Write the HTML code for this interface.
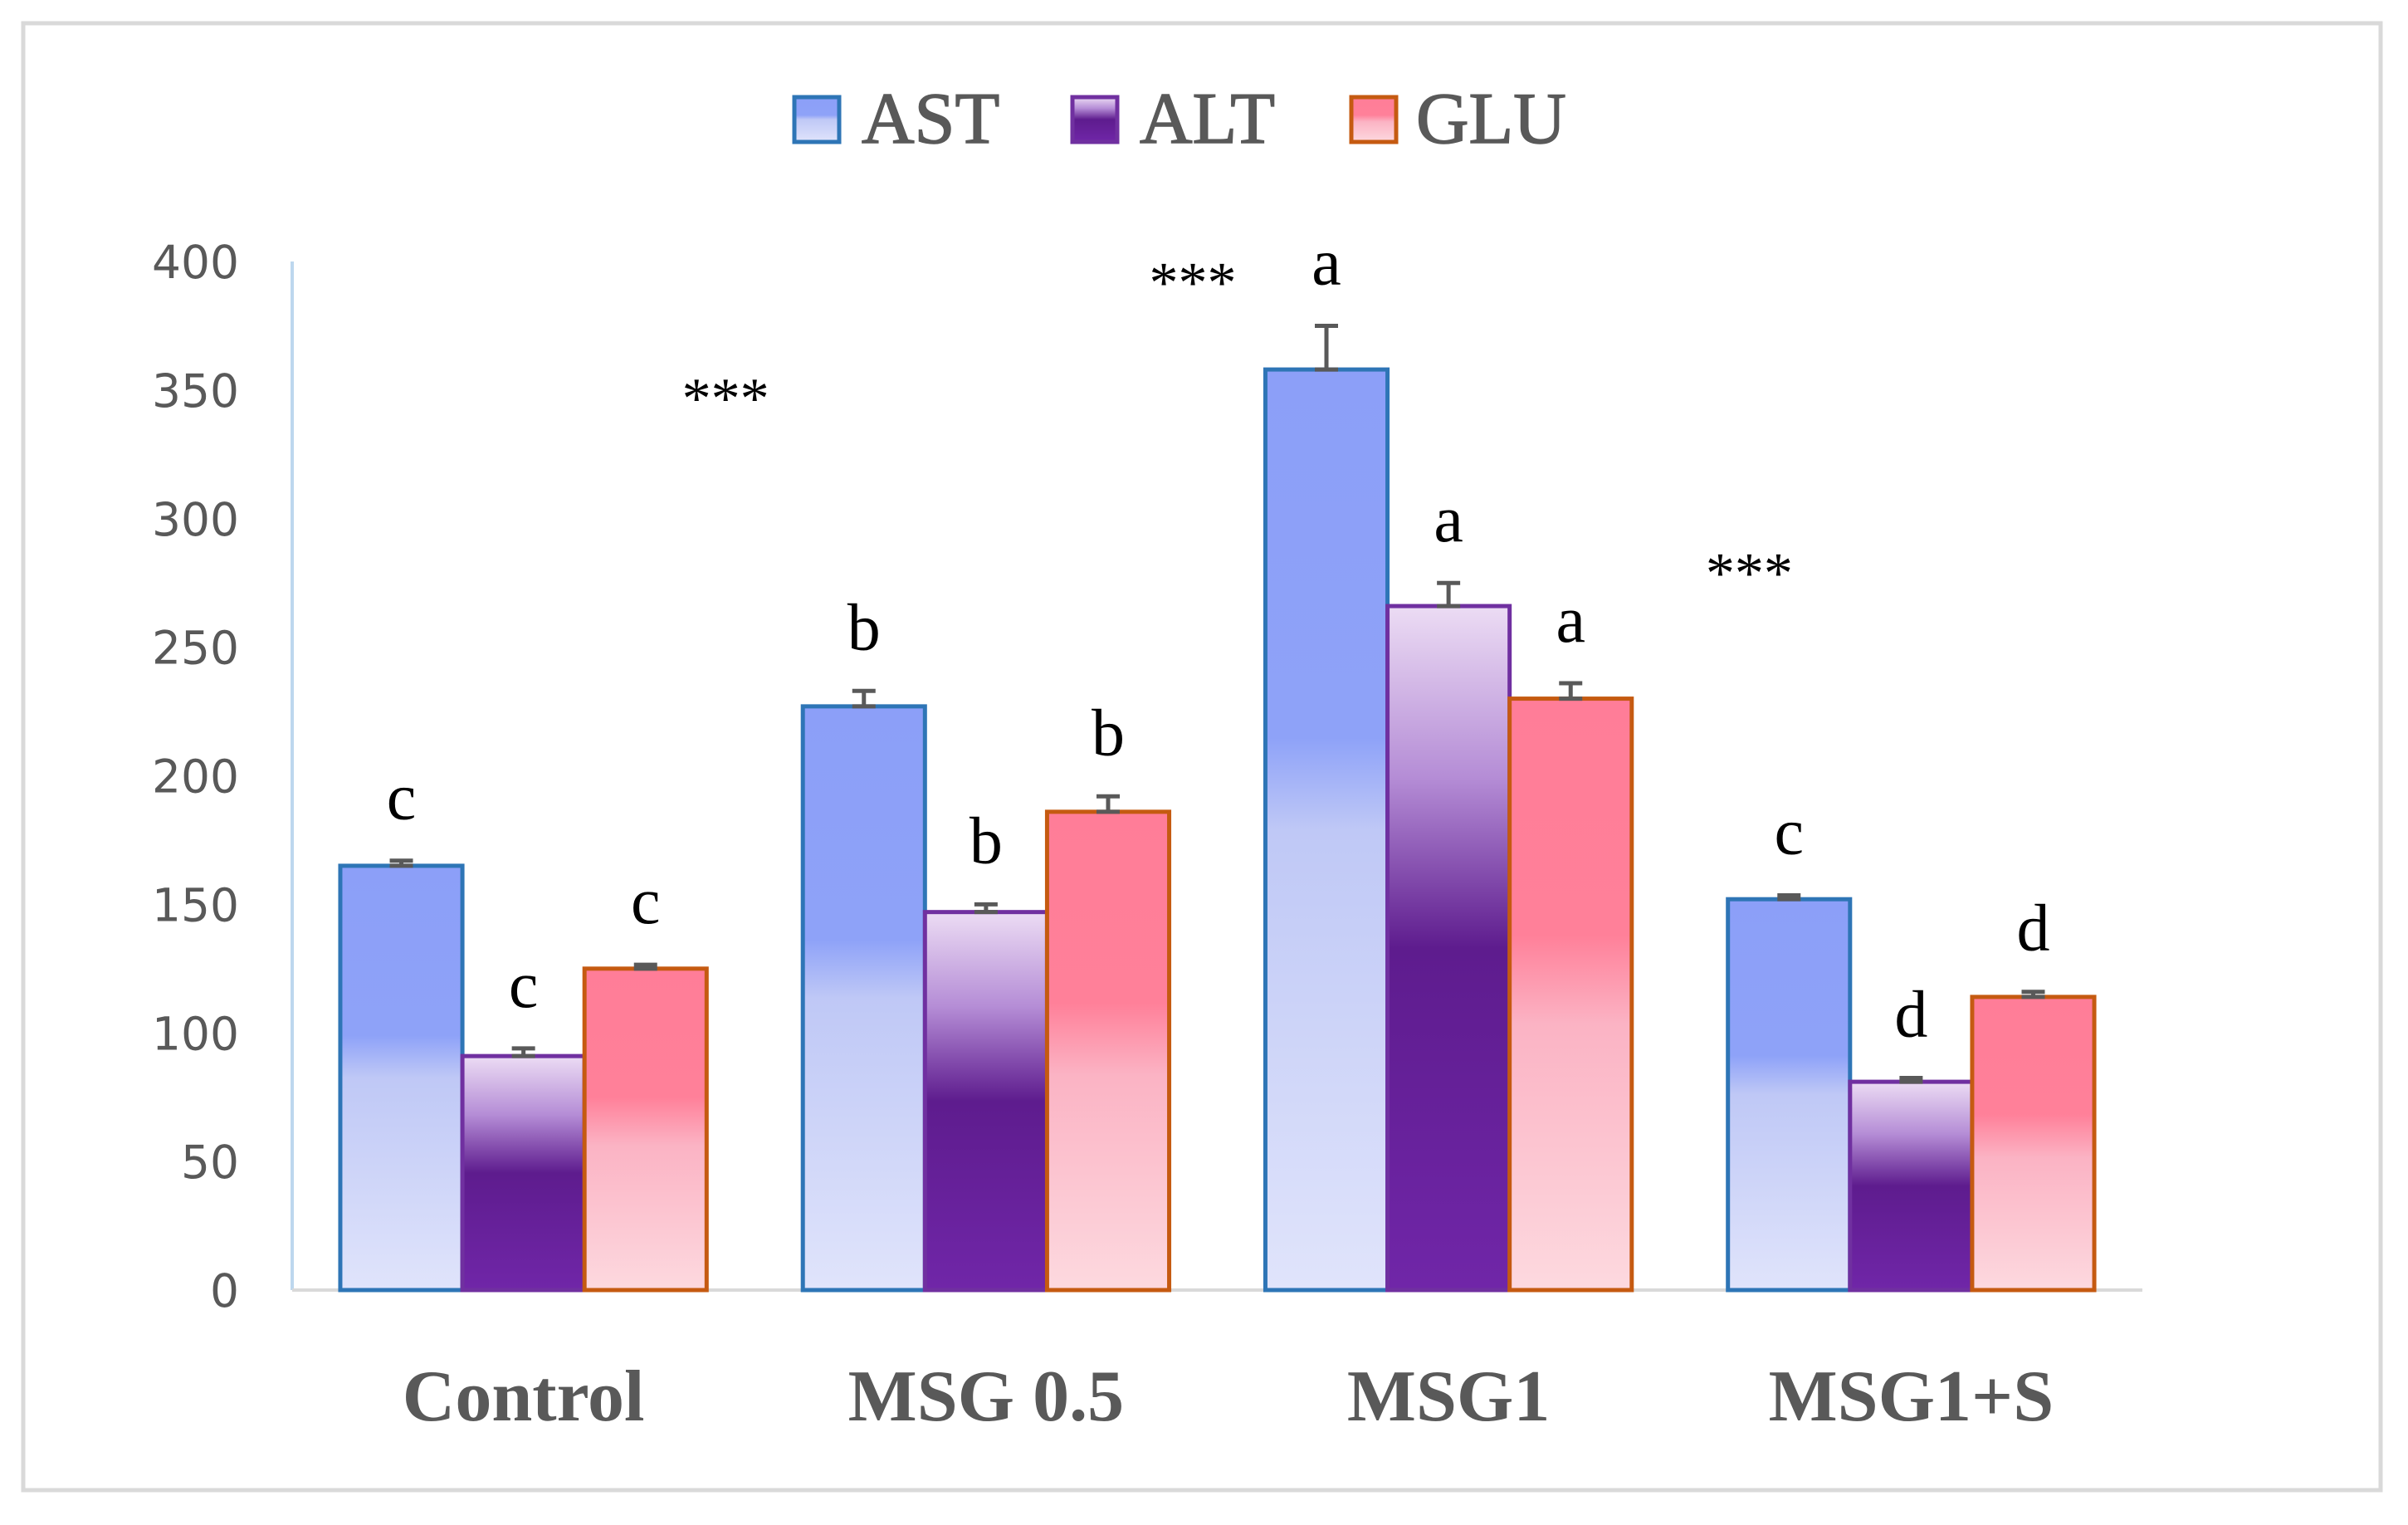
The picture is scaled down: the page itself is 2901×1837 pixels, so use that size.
<!DOCTYPE html>
<html><head><meta charset="utf-8">
<style>
html,body{margin:0;padding:0;background:#fff;}
svg{display:block;}
</style></head>
<body>
<svg id="chart" width="2901" height="1837" viewBox="0 0 2901 1837" xmlns="http://www.w3.org/2000/svg">
<defs>
<linearGradient id="gAST" x1="0" y1="0" x2="0" y2="1">
<stop offset="0" stop-color="#8c9ff8"/><stop offset="0.4" stop-color="#8ea2f8"/><stop offset="0.5" stop-color="#bfc8f6"/><stop offset="1" stop-color="#e0e4fb"/>
</linearGradient>
<linearGradient id="gALT" x1="0" y1="0" x2="0" y2="1">
<stop offset="0" stop-color="#ecdcf4"/><stop offset="0.25" stop-color="#b58dd6"/><stop offset="0.5" stop-color="#5e1c8e"/><stop offset="1" stop-color="#7026a8"/>
</linearGradient>
<linearGradient id="gGLU" x1="0" y1="0" x2="0" y2="1">
<stop offset="0" stop-color="#ff7d98"/><stop offset="0.4" stop-color="#ff8099"/><stop offset="0.55" stop-color="#fbb3c4"/><stop offset="1" stop-color="#fdd9df"/>
</linearGradient>
</defs>
<rect x="28" y="28" width="2840" height="1767" fill="#fff" stroke="#d9d9d9" stroke-width="5"/>
<g id="legend"></g>
<g id="axes"></g>
<g id="bars"></g>
</svg>
<script>
const categories = ["Control", "MSG 0.5", "MSG1", "MSG1+S"];
const seriesNames = ["AST", "ALT", "GLU"];
const astValues = [165, 227, 358, 152];
const altValues = [91, 147, 266, 81];
const gluValues = [125, 186, 230, 114];
const astErrors = [2, 6, 17, 1.5];
const altErrors = [3, 3, 9, 1.5];
const gluErrors = [1.5, 6, 6, 2];
const astLetters = ["c", "b", "a", "c"];
const altLetters = ["c", "b", "a", "d"];
const gluLetters = ["c", "b", "a", "d"];
const yTicks = [0, 50, 100, 150, 200, 250, 300, 350, 400];
const starValues = [349, 394, 281];
const starCategoryPos = [0.937, 1.947, 3.15];

const NS = "http://www.w3.org/2000/svg";
const X0 = 352, X1 = 2581, Y0 = 1554, Y400 = 315;
const yScale = v => Y0 - (v / 400) * (Y0 - Y400);
const catW = (X1 - X0) / categories.length;
const barW = catW * 0.264;
const xCat = i => X0 + catW * (i + 0.5);
const xBar = (i, s) => xCat(i) - 1.5 * barW + s * barW;
const fills = ["url(#gAST)", "url(#gALT)", "url(#gGLU)"];
const strokes = ["#2e75b6", "#7030a0", "#c55a11"];
const values = [astValues, altValues, gluValues];
const errors = [astErrors, altErrors, gluErrors];
const letters = [astLetters, altLetters, gluLetters];
function mk(tag, attrs, parent) {
  const e = document.createElementNS(NS, tag);
  for (const k in attrs) e.setAttribute(k, attrs[k]);
  parent.appendChild(e);
  return e;
}
const axes = document.getElementById("axes");
const bars = document.getElementById("bars");
const legend = document.getElementById("legend");

const ya = mk("line", {x1: X0, y1: Y400, x2: X0, y2: Y0, stroke: "#bdd7ee", "stroke-width": 4}, axes);


const xa = mk("line", {x1: X0, y1: Y0, x2: X1, y2: Y0, stroke: "#d9d9d9", "stroke-width": 4}, axes);


yTicks.forEach(t => {
  const tx = mk("text", {x: 288, y: yScale(t) + 20, "text-anchor": "end", "font-family": "DejaVu Sans, sans-serif", "font-size": 55, fill: "#595959"}, axes);
  tx.textContent = t;
  
  
});
categories.forEach((c, i) => {
  const tx = mk("text", {x: xCat(i), y: 1711, "text-anchor": "middle", "font-family": "Liberation Serif, serif", "font-size": 88, "font-weight": "bold", fill: "#595959"}, axes);
  tx.textContent = c;
  
  
});
for (let s = 0; s < 3; s++) {
  for (let i = 0; i < categories.length; i++) {
    const v = values[s][i], e = errors[s][i];
    const x = xBar(i, s), y = yScale(v);
    const r = mk("rect", {x: x, y: y, width: barW, height: Y0 - y, fill: fills[s], stroke: strokes[s], "stroke-width": 5}, bars);
    
    
    const cx = x + barW / 2, yt = yScale(v + e);
    const eb = mk("path", {d: `M${cx} ${yt}V${y} M${cx - 14} ${yt}H${cx + 14} M${cx - 14} ${y}H${cx + 14}`, stroke: "#595959", "stroke-width": 5, fill: "none"}, bars);
    
    
    const lt = mk("text", {x: cx, y: yt - 50, "text-anchor": "middle", "font-family": "Liberation Serif, serif", "font-size": 80, fill: "#000"}, bars);
    lt.textContent = letters[s][i];
    
    
  }
}
starValues.forEach((v, k) => {
  const st = mk("text", {x: X0 + catW * starCategoryPos[k], y: yScale(v) + 30, "text-anchor": "middle", "font-family": "Liberation Serif, serif", "font-size": 70, fill: "#000"}, bars);
  st.textContent = "***";
  
  
});
const legX = [957, 1292, 1628], legTx = [1038, 1373, 1706];
seriesNames.forEach((n, s) => {
  const sw = mk("rect", {x: legX[s], y: 117, width: 54, height: 54, fill: fills[s], stroke: strokes[s], "stroke-width": 5}, legend);
  
  
  const t = mk("text", {x: legTx[s], y: 172, "font-family": "Liberation Serif, serif", "font-size": 88, fill: "#595959", stroke: "#595959", "stroke-width": 1.5}, legend);
  t.textContent = n;
  
  
});
</script>
</body></html>
